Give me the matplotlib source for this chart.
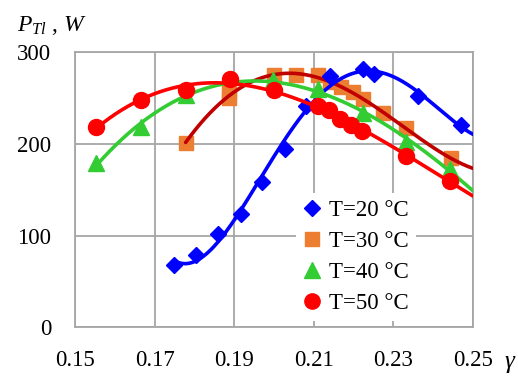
import numpy as np
import matplotlib
matplotlib.use("Agg")
import matplotlib.pyplot as plt
from matplotlib.lines import Line2D

plt.rcParams['font.family'] = ['Liberation Serif', 'DejaVu Serif']
plt.rcParams['mathtext.fontset'] = 'custom'
plt.rcParams['mathtext.rm'] = 'Liberation Serif'
plt.rcParams['mathtext.it'] = 'Liberation Serif:italic'

# T=20 °C
x20 = [0.1748, 0.1805, 0.1860, 0.1916, 0.1971, 0.2027, 0.2081, 0.2140, 0.2223, 0.2251, 0.2361, 0.2470]
y20 = [67.9, 78.8, 101.9, 124.0, 158.8, 194.1, 241.3, 274.1, 281.6, 276.2, 252.5, 220.6]
# T=30 °C
x30 = [0.1778, 0.1888, 0.1888, 0.1999, 0.2055, 0.2110, 0.2140, 0.2169, 0.2198, 0.2223, 0.2275, 0.2332, 0.2445]
y30 = [201.5, 256.5, 250.0, 275.1, 275.1, 274.8, 267.5, 262.0, 256.6, 249.3, 233.4, 217.0, 184.3]
# T=40 °C
x40 = [0.1554, 0.1667, 0.1778, 0.1998, 0.2110, 0.2223, 0.2332, 0.2443]
y40 = [179.0, 218.8, 253.0, 269.6, 259.5, 234.0, 202.4, 172.3]
# T=50 °C
x50 = [0.1554, 0.1667, 0.1778, 0.1889, 0.1999, 0.2111, 0.2138, 0.2165, 0.2194, 0.2222, 0.2332, 0.2443]
y50 = [218.8, 247.9, 258.8, 270.4, 258.8, 241.3, 237.0, 226.8, 220.6, 214.0, 186.8, 159.9]

labels = ['T=20 °C', 'T=30 °C', 'T=40 °C', 'T=50 °C']
xticks = [0.15, 0.17, 0.19, 0.21, 0.23, 0.25]
xticklabels = ['0.15', '0.17', '0.19', '0.21', '0.23', '0.25']
yticks = [0, 100, 200, 300]

fig = plt.figure(figsize=(5.18, 3.77), dpi=100)
ax = fig.add_axes([75/518, 1-327.3/377, 398/518, 275/377])

grid_c = '#A6A6A6'
ax.set_xlim(0.15, 0.25)
ax.set_ylim(0, 300)
ax.set_xticks(xticks)
ax.set_xticklabels(xticklabels)
ax.set_yticks(yticks)
ax.grid(True, color=grid_c, lw=1.3, zorder=0)
for s in ax.spines.values():
    s.set_color(grid_c)
    s.set_linewidth(1.3)
ax.tick_params(length=0, labelsize=16.5, colors='black')
ax.tick_params(axis='y', pad=17)
ax.tick_params(axis='x', pad=16)
ax.set_axisbelow(True)

def trend(x, y, deg, color, z):
    x = np.asarray(x); y = np.asarray(y)
    c = np.polyfit(x - 0.2, y, deg)
    xs = np.linspace(x.min(), 0.25, 300)
    ax.plot(xs, np.polyval(c, xs - 0.2), color=color, lw=2.6, zorder=z, solid_capstyle='round')

ms = dict(linestyle='none')
ax.plot(x30, y30, marker='s', ms=10, color='#ED7D31', zorder=2, **ms)
trend(x30, y30, 4, '#C00000', 3)
ax.plot(x20, y20, marker='D', ms=8.5, color='#0000FF', zorder=4, **ms)
trend(x20, y20, 4, '#0000FF', 4)
ax.plot(x40, y40, marker='^', ms=11, color='#33CC33', zorder=5, **ms)
trend(x40, y40, 3, '#33CC33', 5)
ax.plot(x50, y50, marker='o', ms=11.5, color='#FF0000', zorder=6, **ms)
trend(x50, y50, 3, '#FF0000', 6)

handles = [
    Line2D([], [], marker='D', ms=8, color='#0000FF', ls='none'),
    Line2D([], [], marker='s', ms=10, color='#ED7D31', ls='none'),
    Line2D([], [], marker='^', ms=11, color='#33CC33', ls='none'),
    Line2D([], [], marker='o', ms=11, color='#FF0000', ls='none'),
]
leg = ax.legend(handles, labels, loc='center', bbox_to_anchor=(0.705, 0.255),
                frameon=True, fontsize=16.5, handlelength=0.8, handletextpad=0.35,
                labelspacing=0.44, borderpad=0.3, fancybox=False, framealpha=1)
leg.get_frame().set_edgecolor('none')
leg.set_zorder(10)

fig.text(17/518, 1-31/377, r'$P_{Tl}\ ,\,W$', fontsize=17, ha='left', va='baseline')
fig.text(509/518, 1-362/377, 'γ', fontsize=18, fontstyle='italic', ha='center', va='center')

fig.savefig('out.png', dpi=100)
